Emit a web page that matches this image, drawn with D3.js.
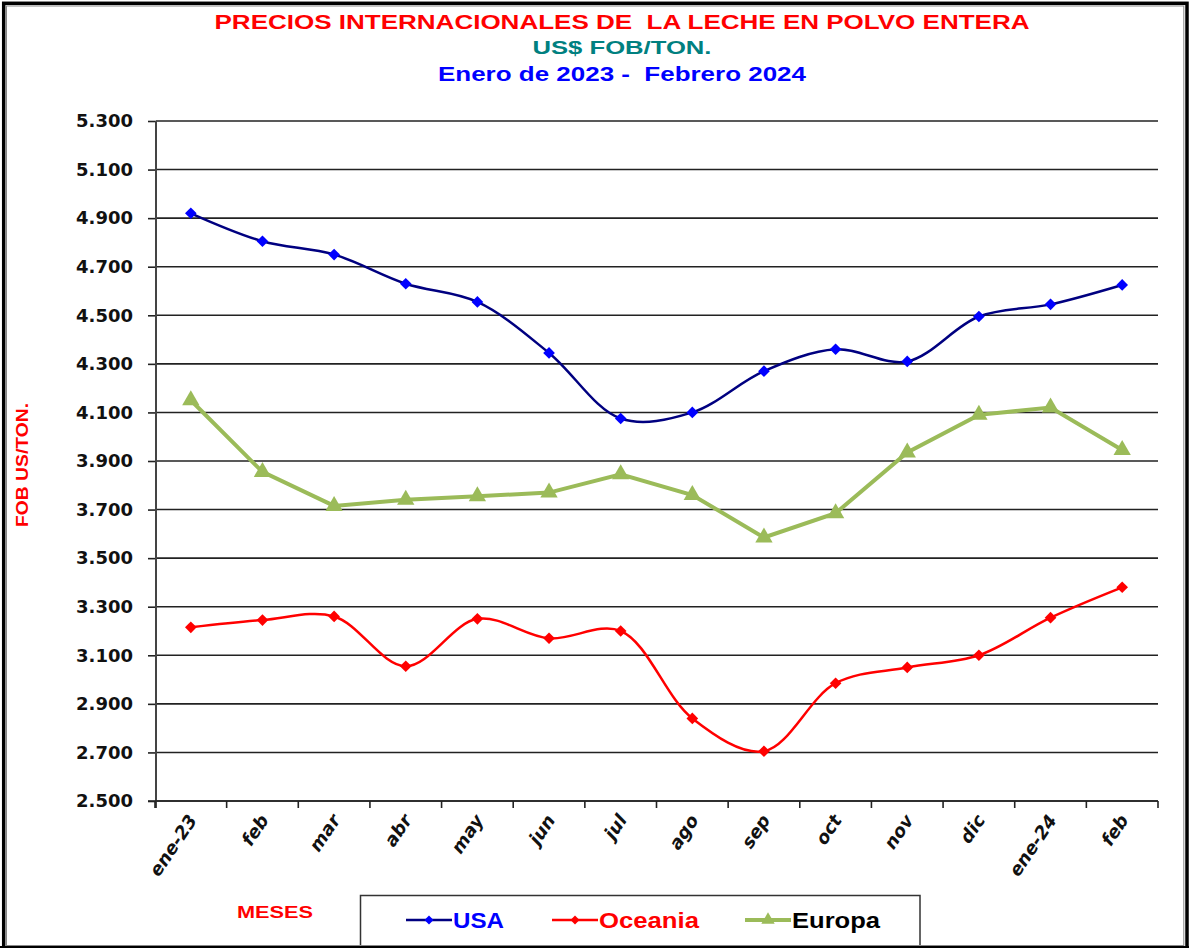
<!DOCTYPE html>
<html>
<head>
<meta charset="utf-8">
<script src="https://cdn.jsdelivr.net/npm/d3@7"></script>
<style>
    body { margin: 0; background: #fff; }
    svg { display: block; }
    text { white-space: pre; }
</style>
</head>
<body>
<svg id="chart"></svg>
<script>
const CONF = {
    svgWidth: 1189,
    svgHeight: 948,
    left: 156,
    right: 1158,
    top: 121,
    bottom: 801,
}

const months = ["ene-23", "feb", "mar", "abr", "may", "jun", "jul", "ago", "sep", "oct", "nov", "dic", "ene-24", "feb"]
const usa = [4920, 4805, 4750, 4630, 4555, 4345, 4075, 4100, 4270, 4360, 4310, 4495, 4545, 4625]
const oceania = [3215, 3245, 3260, 3055, 3250, 3170, 3200, 2840, 2705, 2985, 3050, 3100, 3255, 3380]
const europa = [4150, 3855, 3715, 3740, 3755, 3770, 3845, 3760, 3585, 3685, 3935, 4090, 4120, 3945]
const yTicks = [2500, 2700, 2900, 3100, 3300, 3500, 3700, 3900, 4100, 4300, 4500, 4700, 4900, 5100, 5300]

const titles = [
    { text: "PRECIOS INTERNACIONALES DE  LA LECHE EN POLVO ENTERA", color: "#ff0000", y: 29, size: 20, len: 815 },
    { text: "US$ FOB/TON.", color: "#008080", y: 54, size: 19, len: 179 },
    { text: "Enero de 2023 -  Febrero 2024", color: "#0000ff", y: 81, size: 21, len: 368 },
]

const series = [
    { name: "USA", values: usa, line: "#000080", marker: "#0000ff", text: "#0000ff", shape: d3.symbolSquare, rot: 45, size: 68, width: 2.5, smooth: true },
    { name: "Oceania", values: oceania, line: "#ff0000", marker: "#ff0000", text: "#ff0000", shape: d3.symbolSquare, rot: 45, size: 68, width: 2.5, smooth: true },
    { name: "Europa", values: europa, line: "#9bbb59", marker: "#9bbb59", text: "#000000", shape: d3.symbolTriangle, rot: 0, size: 130, width: 4, smooth: false },
]

let svg = d3.select("svg#chart").attr("width", CONF.svgWidth).attr("height", CONF.svgHeight)

let es = d3.formatLocale({ decimal: ",", thousands: ".", grouping: [3], currency: ["$", ""] })
let fmt = es.format(",.3~f")

let x = d3.scaleBand().domain(d3.range(months.length)).range([CONF.left - 1, CONF.right])
let y = d3.scaleLinear().domain([2500, 5300]).range([CONF.bottom, CONF.top])

// frame
svg.append("rect")
    .attr("x", 3.7).attr("y", 3.3)
    .attr("width", 1183.3).attr("height", 945)
    .attr("fill", "none").attr("stroke", "#000").attr("stroke-width", 3.5)
svg.append("rect")
    .attr("x", 6.5).attr("y", 6)
    .attr("width", 1177.3).attr("height", 940)
    .attr("fill", "none").attr("stroke", "#888").attr("stroke-width", 1)

svg.selectAll(".title")
    .data(titles)
    .enter()
    .append("text")
    .classed("title", true)
    .attr("x", 622)
    .attr("y", d => d.y)
    .attr("text-anchor", "middle")
    .attr("textLength", d => d.len)
    .attr("lengthAdjust", "spacingAndGlyphs")
    .style("font-family", "'Liberation Sans', Arial, sans-serif")
    .style("font-weight", "bold")
    .style("font-size", d => d.size + "px")
    .attr("fill", d => d.color)
    .text(d => d.text)

// y grid + labels
let yAxis = svg.append("g")
    .attr("transform", `translate(${CONF.left},0)`)
    .call(d3.axisLeft(y).tickValues(yTicks).tickFormat(fmt).tickSize(8).tickPadding(15))
yAxis.select(".domain").remove()
yAxis.selectAll(".tick line").attr("stroke", "#222").attr("stroke-width", 1.6)
yAxis.selectAll(".tick text")
    .style("font-family", "'DejaVu Sans', Verdana, sans-serif")
    .style("font-weight", "bold")
    .style("font-size", "18px")
    .attr("fill", "#111")

svg.append("g")
    .selectAll("line")
    .data(yTicks)
    .enter()
    .append("line")
    .attr("x1", CONF.left)
    .attr("x2", CONF.right)
    .attr("y1", d => y(d))
    .attr("y2", d => y(d))
    .attr("stroke", "#222")
    .attr("stroke-width", 1.6)

svg.append("line")
    .attr("x1", CONF.left).attr("x2", CONF.left)
    .attr("y1", CONF.top).attr("y2", CONF.bottom + 7)
    .attr("stroke", "#444").attr("stroke-width", 2)

// x axis
let xAxis = svg.append("g")
    .attr("transform", `translate(0,${CONF.bottom})`)
xAxis.append("line")
    .attr("x1", CONF.left - 8).attr("x2", CONF.right)
    .attr("stroke", "#222").attr("stroke-width", 1.6)
xAxis.selectAll(".xtick")
    .data(d3.range(months.length + 1))
    .enter()
    .append("line")
    .attr("x1", i => i < months.length ? x(i) : x(i - 1) + x.bandwidth())
    .attr("x2", i => i < months.length ? x(i) : x(i - 1) + x.bandwidth())
    .attr("y1", 0).attr("y2", 7)
    .attr("stroke", "#222").attr("stroke-width", 1.6)
xAxis.selectAll(".xlabel")
    .data(months)
    .enter()
    .append("text")
    .attr("transform", (d, i) => `translate(${x(i) + x.bandwidth() / 2 + 7},${19}) rotate(-56)`)
    .attr("text-anchor", "end")
    .style("font-family", "'DejaVu Sans', Verdana, sans-serif")
    .style("font-weight", "bold")
    .style("font-style", "italic")
    .style("font-size", "18px")
    .attr("fill", "#111")
    .text(d => d)

svg.append("text")
    .attr("transform", "translate(28,465) rotate(-90)")
    .attr("text-anchor", "middle")
    .attr("textLength", 124)
    .attr("lengthAdjust", "spacingAndGlyphs")
    .style("font-family", "'Liberation Sans', Arial, sans-serif")
    .style("font-weight", "bold")
    .style("font-size", "17px")
    .attr("fill", "#ff0000")
    .text("FOB US/TON.")

svg.append("text")
    .attr("x", 237).attr("y", 918)
    .attr("textLength", 76)
    .attr("lengthAdjust", "spacingAndGlyphs")
    .style("font-family", "'Liberation Sans', Arial, sans-serif")
    .style("font-weight", "bold")
    .style("font-size", "16px")
    .attr("fill", "#ff0000")
    .text("MESES")

// series
let cx = i => x(i) + x.bandwidth() / 2

series.forEach(s => {
    let line = d3.line()
        .x((d, i) => cx(i))
        .y(d => y(d))
        .curve(s.smooth ? d3.curveCatmullRom.alpha(0.5) : d3.curveLinear)
    svg.append("path")
        .datum(s.values)
        .attr("d", line)
        .attr("fill", "none")
        .attr("stroke", s.line)
        .attr("stroke-width", s.width)
    svg.selectAll()
        .data(s.values)
        .enter()
        .append("path")
        .attr("d", d3.symbol().type(s.shape).size(s.size))
        .attr("transform", (d, i) => `translate(${cx(i)},${y(d)}) rotate(${s.rot})`)
        .attr("fill", s.marker)
})

// legend
svg.append("rect")
    .attr("x", 360.5).attr("y", 895.5)
    .attr("width", 559.5).attr("height", 60)
    .attr("fill", "#fff").attr("stroke", "#333").attr("stroke-width", 1.5)

let legendX = [406, 552, 745]
let legendLen = [51, 100, 88]
let legend = svg.selectAll(".legend")
    .data(series)
    .enter()
    .append("g")
    .attr("transform", (d, i) => `translate(${legendX[i]},920)`)
legend.append("line")
    .attr("x1", 0).attr("x2", 46)
    .attr("stroke", d => d.line)
    .attr("stroke-width", d => d.width)
legend.append("path")
    .attr("d", d => d3.symbol().type(d.shape).size(d.size * 0.6)())
    .attr("transform", d => `translate(23,0) rotate(${d.rot})`)
    .attr("fill", d => d.marker)
legend.append("text")
    .attr("x", 47)
    .attr("y", 8)
    .attr("textLength", (d, i) => legendLen[i])
    .attr("lengthAdjust", "spacingAndGlyphs")
    .style("font-family", "'Liberation Sans', Arial, sans-serif")
    .style("font-weight", "bold")
    .style("font-size", "22px")
    .attr("fill", d => d.text)
    .text(d => d.name)

// redraw the frame bottom on top of the legend
svg.append("rect")
    .attr("x", 0).attr("y", 946)
    .attr("width", CONF.svgWidth).attr("height", 2)
    .attr("fill", "#000")
svg.append("line")
    .attr("x1", 6).attr("x2", 1184)
    .attr("y1", 945.5).attr("y2", 945.5)
    .attr("stroke", "#888")
</script>
</body>
</html>
